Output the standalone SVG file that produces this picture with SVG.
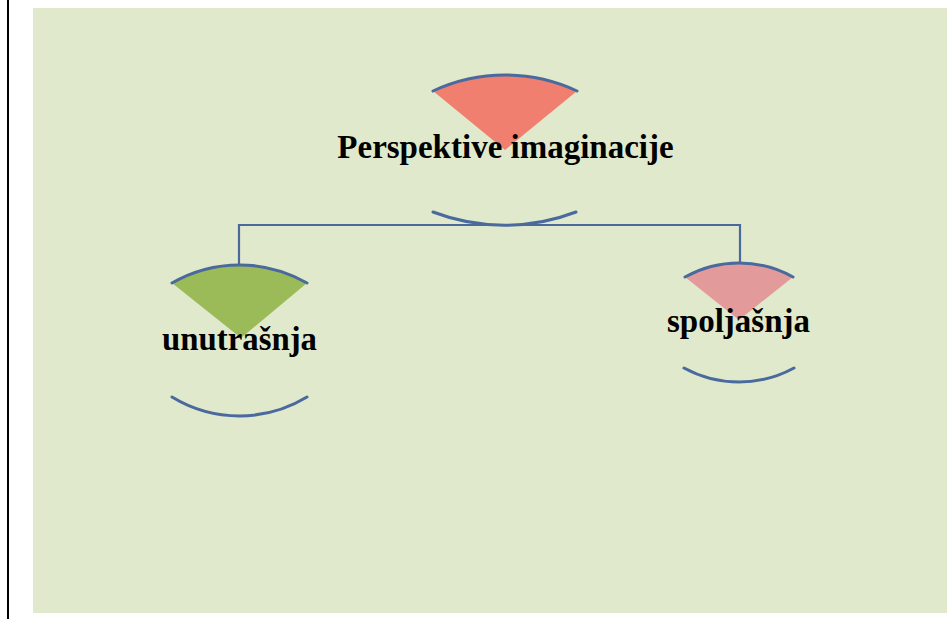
<svg xmlns="http://www.w3.org/2000/svg" width="952" height="619" viewBox="0 0 952 619">
<style>
.arc{fill:none;stroke:#4A6A9E;stroke-width:3;stroke-linecap:round}
.conn{fill:none;stroke:#4A6A9E;stroke-width:2.2}
.lbl{font-family:"Liberation Serif","Times New Roman",serif;font-weight:bold;font-size:33px;fill:#000;text-anchor:middle}
</style>
<rect x="0" y="0" width="952" height="619" fill="#ffffff"/>
<rect x="7" y="0" width="2" height="619" fill="#000"/>
<rect x="33" y="8" width="914" height="605" fill="#E0E9CC"/>
<g id="connectors">
<path class="conn" d="M239,267 V225 H740 V263"/>
</g>
<g id="node-top">
<path d="M433,91 A170,170 0 0,1 577,91 L505,150 Z" fill="#F07F6F"/>
<path class="arc" d="M433,91 A170,170 0 0,1 577,91"/>
<path class="arc" d="M433,212 A200,200 0 0,0 576,212"/>
<text class="lbl" x="505.5" y="158">Perspektive imaginacije</text>
</g>
<g id="node-left">
<path d="M172,283 A135,135 0 0,1 307,283 L241,338 Z" fill="#9BBB59"/>
<path class="arc" d="M172,283 A135,135 0 0,1 307,283"/>
<path class="arc" d="M172,397 A130,130 0 0,0 307,397"/>
<text class="lbl" x="239.5" y="350" textLength="155" lengthAdjust="spacingAndGlyphs">unutrašnja</text>
</g>
<g id="node-right">
<path d="M685,277 A111,111 0 0,1 793,277 L739,320 Z" fill="#E39A9A"/>
<path class="arc" d="M685,277 A111,111 0 0,1 793,277"/>
<path class="arc" d="M684,368 A115,115 0 0,0 794,368"/>
<text class="lbl" x="738.5" y="332">spoljašnja</text>
</g>
</svg>
